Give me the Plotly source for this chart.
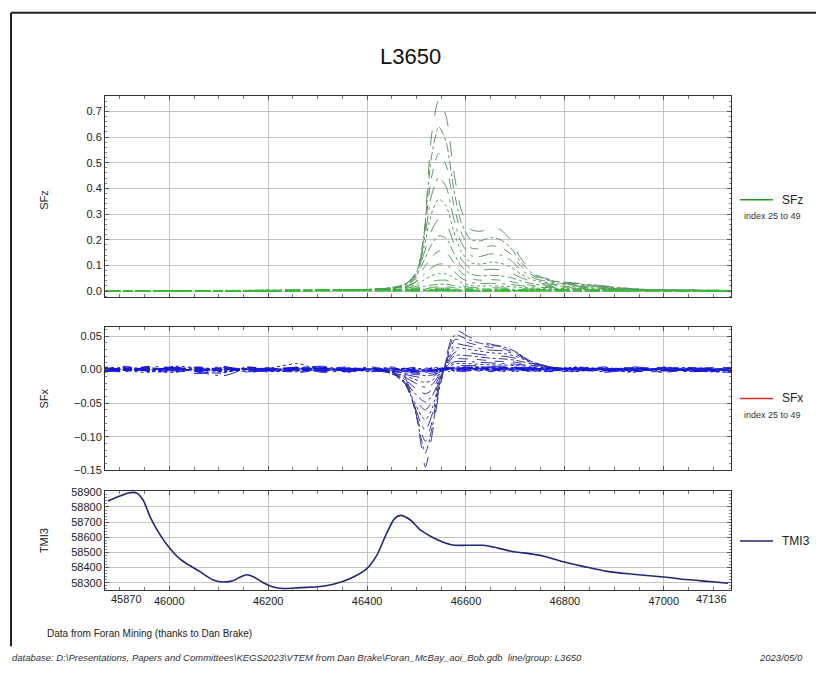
import plotly.graph_objects as go

# ---------------- DATA ----------------
X_RANGE = [45870, 47136]
X_TICKS = [46000, 46200, 46400, 46600, 46800, 47000]
X_EDGE_LABELS = ["45870", "47136"]
CHANNELS = list(range(25, 50))

SFZ_STATIONS = [45870, 46000, 46150, 46300, 46400, 46450, 46480, 46500, 46515, 46530,
                46545, 46560, 46575, 46590, 46610, 46630, 46650, 46670, 46690, 46710,
                46740, 46780, 46850, 46950, 47136]

SFZ = [
    [0, 0, 0, 0.002, 0.004, 0.008, 0.015, 0.04, 0.21, 0.60, 0.745, 0.68, 0.47, 0.32, 0.24, 0.233, 0.246, 0.238, 0.20, 0.13, 0.065, 0.04, 0.026, 0.007, 0.002],
    [0, 0, 0, 0.002, 0.005, 0.010, 0.02, 0.06, 0.22, 0.52, 0.64, 0.58, 0.40, 0.27, 0.20, 0.196, 0.208, 0.200, 0.17, 0.115, 0.06, 0.038, 0.024, 0.007, 0.002],
    [0, 0, 0, 0.002, 0.005, 0.011, 0.025, 0.07, 0.21, 0.44, 0.537, 0.49, 0.34, 0.23, 0.168, 0.165, 0.176, 0.170, 0.145, 0.10, 0.055, 0.036, 0.022, 0.007, 0.002],
    [0, 0, 0, 0.002, 0.006, 0.012, 0.028, 0.075, 0.19, 0.37, 0.443, 0.405, 0.285, 0.19, 0.138, 0.135, 0.145, 0.140, 0.12, 0.085, 0.048, 0.033, 0.020, 0.006, 0.002],
    [0, 0, 0, 0.002, 0.006, 0.013, 0.03, 0.075, 0.17, 0.30, 0.358, 0.33, 0.235, 0.155, 0.11, 0.105, 0.112, 0.108, 0.094, 0.068, 0.04, 0.029, 0.018, 0.006, 0.002],
    [0, 0, 0, 0.002, 0.006, 0.013, 0.03, 0.07, 0.145, 0.235, 0.28, 0.262, 0.19, 0.125, 0.087, 0.081, 0.085, 0.082, 0.072, 0.053, 0.033, 0.025, 0.016, 0.005, 0.002],
    [0, 0, 0, 0.002, 0.006, 0.013, 0.028, 0.062, 0.118, 0.18, 0.215, 0.205, 0.15, 0.098, 0.066, 0.059, 0.061, 0.059, 0.052, 0.04, 0.026, 0.021, 0.013, 0.005, 0.002],
    [0, 0, 0, 0.002, 0.006, 0.012, 0.025, 0.05, 0.09, 0.132, 0.155, 0.15, 0.112, 0.073, 0.048, 0.042, 0.044, 0.042, 0.037, 0.029, 0.02, 0.017, 0.011, 0.004, 0.002],
    [0, 0, 0, 0.002, 0.005, 0.010, 0.02, 0.037, 0.064, 0.09, 0.105, 0.103, 0.078, 0.051, 0.033, 0.029, 0.030, 0.029, 0.026, 0.021, 0.015, 0.013, 0.009, 0.003, 0.001],
    [0, 0, 0, 0.002, 0.004, 0.008, 0.015, 0.026, 0.043, 0.059, 0.068, 0.067, 0.052, 0.034, 0.022, 0.019, 0.020, 0.019, 0.017, 0.014, 0.011, 0.010, 0.007, 0.003, 0.001],
    [0, 0, 0, 0.002, 0.004, 0.006, 0.011, 0.018, 0.028, 0.037, 0.042, 0.042, 0.033, 0.022, 0.014, 0.012, 0.013, 0.012, 0.011, 0.009, 0.008, 0.007, 0.005, 0.002, 0.001],
    [0, 0, 0, 0.001, 0.003, 0.005, 0.008, 0.012, 0.018, 0.023, 0.026, 0.026, 0.021, 0.014, 0.009, 0.008, 0.008, 0.008, 0.007, 0.006, 0.006, 0.005, 0.004, 0.002, 0.001],
    [0, 0, 0.001, 0.001, 0.003, 0.004, 0.006, 0.008, 0.012, 0.014, 0.016, 0.016, 0.013, 0.009, 0.006, 0.005, 0.005, 0.005, 0.005, 0.004, 0.004, 0.004, 0.003, 0.001, 0.001],
    [0.001, 0, 0.002, 0.004, 0.006, 0.005, 0.006, 0.007, 0.009, 0.010, 0.011, 0.011, 0.009, 0.006, 0.004, 0.003, 0.004, 0.004, 0.003, 0.003, 0.003, 0.004, 0.002, 0.003, 0.001],
    [0, 0.001, 0.003, 0.005, 0.006, 0.004, 0.005, 0.006, 0.007, 0.008, 0.008, 0.008, 0.006, 0.004, 0.003, 0.002, 0.003, 0.003, 0.002, 0.002, 0.003, 0.003, 0.004, 0.002, 0.001],
    [0.001, 0, 0.002, 0.006, 0.005, 0.003, 0.004, 0.005, 0.006, 0.006, 0.006, 0.006, 0.005, 0.003, 0.002, 0.002, 0.002, 0.003, 0.002, 0.003, 0.002, 0.004, 0.003, 0.003, 0.002],
    [0, 0.001, 0.001, 0.004, 0.004, 0.003, 0.003, 0.004, 0.005, 0.005, 0.005, 0.005, 0.004, 0.003, 0.002, 0.002, 0.002, 0.002, 0.003, 0.002, 0.003, 0.003, 0.002, 0.002, 0.001],
    [0.001, 0.001, 0.002, 0.003, 0.005, 0.003, 0.003, 0.003, 0.004, 0.004, 0.004, 0.004, 0.003, 0.002, 0.002, 0.001, 0.002, 0.002, 0.002, 0.002, 0.002, 0.003, 0.003, 0.002, 0.002],
    [0, 0, 0.001, 0.002, 0.004, 0.002, 0.002, 0.003, 0.003, 0.003, 0.003, 0.003, 0.003, 0.002, 0.001, 0.002, 0.001, 0.002, 0.001, 0.002, 0.002, 0.002, 0.002, 0.001, 0.001],
    [0.001, 0, 0.002, 0.003, 0.003, 0.002, 0.002, 0.002, 0.003, 0.003, 0.003, 0.002, 0.002, 0.001, 0.002, 0.001, 0.001, 0.001, 0.002, 0.001, 0.002, 0.002, 0.001, 0.002, 0.001],
    [0, 0.001, 0.001, 0.002, 0.003, 0.002, 0.001, 0.002, 0.002, 0.002, 0.002, 0.002, 0.002, 0.001, 0.001, 0.001, 0.001, 0.001, 0.001, 0.001, 0.001, 0.002, 0.001, 0.001, 0.000],
    [0, 0, 0.001, 0.002, 0.002, 0.001, 0.001, 0.001, 0.002, 0.002, 0.002, 0.002, 0.001, 0.001, 0.001, 0.001, 0.001, 0.001, 0.001, 0.001, 0.001, 0.001, 0.001, 0.001, 0.000],
    [0, 0, 0.001, 0.001, 0.002, 0.001, 0.001, 0.001, 0.001, 0.001, 0.001, 0.001, 0.001, 0.001, 0.001, 0.000, 0.001, 0.000, 0.001, 0.000, 0.001, 0.001, 0.000, 0.001, 0.000],
    [0, 0, 0, 0.001, 0.001, 0.001, 0.001, 0.001, 0.001, 0.001, 0.001, 0.001, 0.001, 0.000, 0.001, 0.000, 0.000, 0.001, 0.000, 0.001, 0.000, 0.001, 0.000, 0.000, 0.000],
    [0, 0, 0, 0.001, 0.001, 0.000, 0.001, 0.000, 0.001, 0.001, 0.001, 0.000, 0.001, 0.000, 0.000, 0.000, 0.001, 0.000, 0.000, 0.000, 0.001, 0.000, 0.000, 0.000, 0.000],
]

SFX_STATIONS = [45870, 45910, 45960, 46010, 46060, 46110, 46160, 46210, 46260, 46310,
                46360, 46410, 46450, 46475, 46495, 46510, 46518, 46532, 46544, 46555,
                46566, 46578, 46600, 46625, 46650, 46675, 46700, 46730, 46770, 46820,
                46880, 46940, 47000, 47060, 47136]

SFX = [
    [-0.001, 0.002, 0.001, 0.000, -0.002, 0.001, 0.000, 0.001, 0.002, 0.000, 0.001, 0.001, -0.002, -0.010, -0.050, -0.115, -0.145, -0.095, -0.040, 0.000, 0.036, 0.060, 0.051, 0.043, 0.038, 0.034, 0.026, 0.012, 0.003, 0.001, -0.001, 0.001, 0.000, 0.001, -0.002],
    [0.001, -0.001, 0.002, -0.001, 0.000, 0.002, -0.001, 0.000, 0.001, 0.001, -0.001, 0.000, -0.003, -0.014, -0.055, -0.105, -0.124, -0.085, -0.036, 0.000, 0.030, 0.052, 0.046, 0.040, 0.036, 0.034, 0.027, 0.013, 0.004, 0.000, 0.001, -0.001, 0.001, -0.001, 0.000],
    [0.000, 0.001, -0.001, 0.002, 0.001, -0.001, 0.002, -0.001, 0.000, 0.002, 0.000, -0.001, -0.004, -0.017, -0.055, -0.094, -0.107, -0.076, -0.032, 0.000, 0.026, 0.045, 0.041, 0.036, 0.033, 0.031, 0.025, 0.013, 0.004, 0.001, 0.000, 0.002, -0.001, 0.000, 0.001],
    [0.002, 0.000, 0.001, 0.000, -0.002, 0.000, 0.001, 0.002, -0.001, 0.001, 0.002, 0.000, -0.005, -0.019, -0.052, -0.082, -0.090, -0.066, -0.028, 0.000, 0.022, 0.038, 0.036, 0.032, 0.029, 0.028, 0.023, 0.012, 0.004, 0.001, 0.001, 0.000, 0.001, 0.002, -0.001],
    [-0.001, 0.001, 0.000, 0.001, 0.001, -0.002, 0.000, 0.001, 0.000, -0.001, 0.001, 0.001, -0.006, -0.020, -0.047, -0.069, -0.075, -0.057, -0.025, 0.000, 0.018, 0.032, 0.031, 0.028, 0.025, 0.024, 0.020, 0.011, 0.004, 0.000, 0.002, 0.001, 0.000, -0.001, 0.000],
    [0.001, 0.002, 0.001, -0.002, 0.000, 0.001, -0.002, 0.000, 0.002, 0.000, 0.000, -0.001, -0.006, -0.019, -0.041, -0.056, -0.060, -0.047, -0.021, 0.000, 0.015, 0.026, 0.026, 0.023, 0.021, 0.020, 0.017, 0.010, 0.004, 0.001, 0.000, -0.001, 0.002, 0.000, 0.001],
    [0.000, -0.001, 0.002, 0.001, 0.001, 0.000, 0.001, -0.002, 0.001, 0.002, -0.001, 0.000, -0.006, -0.017, -0.034, -0.045, -0.048, -0.039, -0.018, 0.000, 0.012, 0.021, 0.021, 0.019, 0.017, 0.016, 0.014, 0.009, 0.003, 0.001, 0.001, 0.000, 0.000, 0.001, -0.001],
    [0.001, 0.000, -0.001, 0.000, 0.002, 0.001, -0.001, 0.001, -0.002, 0.000, 0.002, 0.001, -0.006, -0.014, -0.026, -0.034, -0.036, -0.030, -0.014, 0.000, 0.009, 0.016, 0.016, 0.015, 0.013, 0.012, 0.011, 0.007, 0.003, 0.000, -0.001, 0.001, 0.001, 0.000, 0.000],
    [-0.002, 0.001, 0.000, 0.001, -0.001, 0.002, 0.000, 0.000, 0.001, -0.001, 0.000, 0.000, -0.005, -0.011, -0.019, -0.025, -0.026, -0.022, -0.010, 0.000, 0.007, 0.012, 0.012, 0.011, 0.010, 0.009, 0.008, 0.006, 0.002, 0.001, 0.000, 0.000, -0.001, 0.001, 0.000],
    [0.000, 0.002, -0.001, 0.000, 0.000, -0.001, 0.002, 0.001, 0.000, 0.001, -0.002, 0.001, -0.004, -0.009, -0.014, -0.018, -0.019, -0.016, -0.008, 0.000, 0.005, 0.009, 0.009, 0.008, 0.007, 0.007, 0.006, 0.005, 0.002, 0.000, 0.001, -0.001, 0.000, 0.000, 0.001],
    [0.001, 0.000, 0.001, -0.001, 0.001, 0.000, 0.000, 0.002, -0.001, 0.000, 0.001, -0.001, -0.004, -0.007, -0.010, -0.012, -0.013, -0.011, -0.005, 0.000, 0.004, 0.006, 0.006, 0.006, 0.005, 0.005, 0.004, 0.003, 0.001, 0.001, 0.000, 0.001, 0.000, -0.001, 0.000],
    [0.000, -0.001, 0.000, 0.002, -0.001, 0.001, 0.001, 0.000, 0.001, 0.001, 0.000, 0.000, -0.003, -0.005, -0.007, -0.008, -0.009, -0.008, -0.004, 0.000, 0.003, 0.004, 0.004, 0.004, 0.004, 0.003, 0.003, 0.002, 0.001, 0.000, 0.001, 0.000, 0.001, 0.000, -0.001],
    [0.001, 0.000, -0.001, 0.001, 0.000, 0.000, -0.001, 0.001, 0.002, 0.000, 0.001, 0.000, -0.002, -0.004, -0.005, -0.006, -0.006, -0.005, -0.003, 0.000, 0.002, 0.003, 0.003, 0.003, 0.003, 0.002, 0.002, 0.001, 0.000, 0.001, 0.000, -0.001, 0.000, 0.001, 0.000],
    [0.000, 0.002, 0.001, 0.000, -0.002, 0.001, 0.000, -0.001, 0.000, 0.002, 0.000, 0.001, -0.001, -0.003, -0.004, -0.004, -0.004, -0.003, -0.002, 0.000, 0.001, 0.002, 0.002, 0.002, 0.002, 0.002, 0.001, 0.001, 0.001, 0.000, -0.001, 0.000, 0.001, 0.000, 0.001],
    [-0.001, 0.001, 0.003, -0.002, 0.001, -0.003, 0.002, 0.001, -0.002, 0.000, 0.002, -0.001, 0.000, -0.002, -0.003, -0.003, -0.003, -0.002, -0.001, 0.000, 0.001, 0.002, 0.001, 0.002, 0.001, 0.001, 0.002, 0.000, 0.001, -0.002, 0.001, 0.002, -0.001, 0.000, 0.001],
    [0.002, -0.002, 0.000, 0.003, -0.002, 0.002, -0.001, 0.003, 0.000, -0.002, 0.001, 0.002, -0.001, -0.002, -0.002, -0.003, -0.002, -0.002, 0.000, 0.001, 0.001, 0.001, 0.002, 0.000, 0.002, 0.000, 0.001, 0.002, -0.001, 0.001, 0.002, -0.001, 0.001, -0.002, 0.000],
    [0.000, 0.003, -0.002, 0.001, 0.003, -0.002, 0.001, -0.002, 0.003, 0.001, -0.002, 0.000, 0.002, -0.001, -0.002, -0.001, -0.002, -0.001, 0.001, 0.000, 0.002, 0.000, 0.001, 0.002, -0.001, 0.002, 0.000, 0.001, 0.002, -0.002, 0.000, 0.003, -0.002, 0.001, -0.001],
    [-0.002, 0.001, 0.004, -0.003, -0.001, 0.003, -0.003, 0.002, 0.001, -0.003, 0.002, -0.002, 0.001, 0.000, -0.002, 0.001, -0.002, 0.000, 0.002, -0.001, 0.001, 0.003, -0.001, 0.002, 0.001, -0.002, 0.003, 0.000, -0.002, 0.002, -0.001, 0.001, 0.003, -0.002, -0.003],
    [0.003, -0.002, 0.001, 0.002, -0.004, -0.009, 0.002, -0.001, 0.004, 0.002, -0.003, 0.002, -0.002, 0.002, 0.000, -0.002, 0.001, -0.002, 0.000, 0.002, -0.001, 0.002, 0.003, 0.000, -0.002, 0.003, 0.001, -0.002, 0.002, 0.000, -0.003, 0.002, -0.004, 0.002, 0.001],
    [-0.003, 0.004, -0.002, -0.004, 0.002, 0.001, -0.003, 0.003, 0.009, -0.002, 0.003, -0.003, 0.002, -0.001, 0.002, 0.000, -0.002, 0.002, -0.002, 0.001, 0.002, -0.002, 0.002, 0.004, -0.001, 0.001, -0.003, 0.003, 0.000, -0.003, 0.003, -0.002, 0.001, -0.003, 0.002],
    [0.002, -0.003, 0.005, 0.001, -0.006, 0.003, 0.000, -0.004, 0.002, 0.005, -0.002, 0.001, -0.003, 0.002, -0.002, 0.003, 0.001, -0.003, 0.002, 0.000, -0.002, 0.003, 0.000, -0.003, 0.004, -0.001, 0.002, -0.002, 0.003, 0.001, -0.004, 0.001, 0.003, -0.001, -0.004],
    [-0.004, 0.002, -0.001, 0.004, -0.003, -0.005, 0.004, -0.002, -0.003, 0.003, 0.001, -0.003, 0.004, -0.002, 0.001, -0.003, 0.002, 0.001, -0.003, 0.002, 0.003, -0.001, -0.003, 0.002, 0.000, 0.004, -0.002, 0.001, -0.003, 0.004, 0.000, -0.003, 0.002, 0.003, -0.002],
    [0.001, 0.005, -0.003, -0.002, 0.004, -0.003, 0.003, 0.002, -0.004, 0.000, 0.004, -0.002, -0.001, 0.003, -0.003, 0.002, -0.001, 0.003, -0.002, -0.001, 0.002, -0.002, 0.004, -0.002, 0.003, -0.003, 0.001, 0.003, -0.002, -0.002, 0.004, -0.002, -0.003, 0.002, 0.003],
    [-0.002, -0.003, 0.004, 0.003, -0.002, 0.005, -0.004, 0.001, 0.003, -0.004, -0.001, 0.004, -0.003, 0.001, 0.003, -0.002, 0.003, -0.002, 0.001, 0.003, -0.003, 0.001, -0.002, 0.003, -0.003, 0.002, 0.003, -0.003, 0.001, 0.003, -0.002, 0.004, -0.001, -0.003, 0.002],
    [0.004, -0.001, -0.004, 0.005, 0.002, -0.004, 0.003, -0.003, 0.001, 0.004, -0.004, 0.002, 0.002, -0.003, 0.002, 0.001, -0.003, 0.002, 0.003, -0.002, 0.001, -0.003, 0.003, -0.001, 0.002, -0.003, 0.004, -0.001, -0.003, 0.003, 0.001, -0.004, 0.004, -0.002, -0.004],
]

TMI_STATIONS = [45876, 45900, 45917, 45934, 45947, 45961, 45975, 45995, 46022, 46062,
                46089, 46110, 46130, 46145, 46156, 46170, 46190, 46210, 46230, 46264,
                46305, 46332, 46365, 46399, 46419, 46440, 46456, 46468, 46487, 46507,
                46534, 46554, 46574, 46601, 46635, 46655, 46689, 46736, 46756, 46797,
                46837, 46885, 46938, 47006, 47046, 47093, 47130]
TMI3 = [58840, 58872, 58893, 58893, 58846, 58737, 58651, 58553, 58456, 58373,
        58318, 58305, 58315, 58340, 58353, 58340, 58300, 58272, 58262, 58268,
        58275, 58290, 58326, 58391, 58477, 58629, 58725, 58745, 58716, 58651,
        58597, 58568, 58549, 58547, 58547, 58536, 58510, 58488, 58477, 58438,
        58408, 58375, 58356, 58336, 58321, 58308, 58297]

for arr in SFZ:
    assert len(arr) == len(SFZ_STATIONS), len(arr)
for arr in SFX:
    assert len(arr) == len(SFX_STATIONS), len(arr)
assert len(TMI3) == len(TMI_STATIONS)

# ---------------- STYLE ----------------
W, H = 816, 675
FONT = "Liberation Sans, Arial, sans-serif"


def px(x):
    return x / W


def py(y):
    return 1 - y / H


def mix(c1, c2, t):
    a = [int(c1[i:i + 2], 16) for i in (1, 3, 5)]
    b = [int(c2[i:i + 2], 16) for i in (1, 3, 5)]
    return "rgb(%d,%d,%d)" % tuple(round(a[k] + (b[k] - a[k]) * t) for k in range(3))


DASHES = ["longdash", "dashdot", "dash", "longdashdot", "dot"]

fig = go.Figure()

n = len(SFZ)
for i, vals in enumerate(SFZ):
    t = i / (n - 1)
    fig.add_trace(go.Scatter(
        x=SFZ_STATIONS, y=vals, mode="lines", name="SFz[%d]" % CHANNELS[i],
        line=dict(color=mix("#62906a", "#2ec22e", t), width=1,
                  dash=DASHES[i % len(DASHES)], shape="spline", smoothing=0.7),
        xaxis="x", yaxis="y", showlegend=False, hoverinfo="skip"))

n = len(SFX)
for i, vals in enumerate(SFX):
    t = i / (n - 1)
    fig.add_trace(go.Scatter(
        x=SFX_STATIONS, y=vals, mode="lines", name="SFx[%d]" % CHANNELS[i],
        line=dict(color=mix("#3a3a9a", "#1010e8", t), width=1,
                  dash=DASHES[i % len(DASHES)], shape="spline", smoothing=0.7),
        xaxis="x2", yaxis="y2", showlegend=False, hoverinfo="skip"))

fig.add_trace(go.Scatter(
    x=TMI_STATIONS, y=TMI3, mode="lines", name="TMI3",
    line=dict(color="#1f2878", width=1.6, shape="spline", smoothing=0.8),
    xaxis="x3", yaxis="y3", showlegend=False, hoverinfo="skip"))

XDOM = [px(105), px(731)]
common_x = dict(range=X_RANGE, domain=XDOM, tickmode="array", tickvals=X_TICKS,
                tickformat="d",
                showgrid=True, gridcolor="#c4c4c4", gridwidth=1,
                showline=True, linecolor="#333333", linewidth=1, mirror="allticks",
                ticks="inside", ticklen=4, tickcolor="#555555",
                minor=dict(dtick=50, tick0=45850, ticks="inside", ticklen=3,
                           tickcolor="#777777", showgrid=False),
                zeroline=False, tickfont=dict(family=FONT, size=11, color="#222222"))
common_y = dict(showgrid=True, gridcolor="#c4c4c4", gridwidth=1,
                showline=True, linecolor="#333333", linewidth=1, mirror="allticks",
                ticks="inside", ticklen=4, tickcolor="#555555",
                zeroline=False, tickfont=dict(family=FONT, size=11, color="#222222"))

fig.update_layout(
    width=W, height=H,
    margin=dict(l=0, r=0, t=0, b=0),
    paper_bgcolor="white", plot_bgcolor="white",
    showlegend=False,
    xaxis=dict(common_x, anchor="y", showticklabels=False),
    xaxis2=dict(common_x, anchor="y2", showticklabels=False, matches="x"),
    xaxis3=dict(common_x, anchor="y3", showticklabels=True, matches="x"),
    yaxis=dict(common_y, anchor="x", domain=[py(297), py(92)], range=[-0.024, 0.762],
               tickvals=[0, 0.1, 0.2, 0.3, 0.4, 0.5, 0.6, 0.7], tickformat=".1f",
               minor=dict(dtick=0.02, ticks="inside", ticklen=2, tickcolor="#888888")),
    yaxis2=dict(common_y, anchor="x2", domain=[py(473), py(327)], range=[-0.15, 0.064],
                tickvals=[-0.15, -0.10, -0.05, 0.0, 0.05], tickformat=".2f",
                minor=dict(dtick=0.01, ticks="inside", ticklen=2, tickcolor="#888888")),
    yaxis3=dict(common_y, anchor="x3", domain=[py(595), py(494)], range=[58250, 58906],
                tickvals=[58300, 58400, 58500, 58600, 58700, 58800, 58900], tickformat="d",
                minor=dict(dtick=20, ticks="inside", ticklen=2, tickcolor="#888888")),
)

ann = []
shapes = []


def text(t, x, y, size, xanchor="center", angle=0, color="#222222"):
    ann.append(dict(text=t, x=px(x), y=py(y), xref="paper", yref="paper",
                    xanchor=xanchor, yanchor="middle", textangle=angle,
                    showarrow=False, font=dict(family=FONT, size=size, color=color)))


# Title
text("L3650", 410, 52, 22, color="#111111")

# Edge tick labels of the bottom axis
text(X_EDGE_LABELS[0], 109, 604, 11, xanchor="left")
text(X_EDGE_LABELS[1], 729, 604, 11, xanchor="right")

# Axis titles
for txt, yy in (("SFz", 198), ("SFx", 400), ("TMI3", 545)):
    text(txt, 44, yy, 11, angle=-90)

# Custom legends
for name, color, yy, sub in (("SFz", "#22a022", 198, True),
                             ("SFx", "#e02828", 400, True),
                             ("TMI3", "#1f2878", 545, False)):
    shapes.append(dict(type="line", xref="paper", yref="paper",
                       x0=px(740), x1=px(773), y0=py(yy), y1=py(yy),
                       line=dict(color=color, width=1.5)))
    text(name, 780, yy, 12, xanchor="left")
    if sub:
        text("index 25 to 49", 772, yy + 17, 9, color="#333333")

# Footer texts
text("Data from Foran Mining (thanks to Dan Brake)", 45, 639, 10, xanchor="left")
text("<i>database: D:\\Presentations, Papers and Committees\\KEGS2023\\VTEM from Dan Brake\\Foran_McBay_aoi_Bob.gdb  line/group: L3650</i>",
     10, 663, 9.5, xanchor="left", color="#333333")
text("<i>2023/05/0</i>", 757, 663, 9.5, xanchor="left", color="#333333")

# Page frame (left and top edges)
shapes.append(dict(type="line", xref="paper", yref="paper", x0=px(11), x1=px(11),
                   y0=py(8), y1=py(652), line=dict(color="#222222", width=2)))
shapes.append(dict(type="line", xref="paper", yref="paper", x0=px(11), x1=1,
                   y0=py(8), y1=py(8), line=dict(color="#222222", width=2)))

fig.update_layout(annotations=ann, shapes=shapes)

# remove the default page margin so the figure sits at the window origin
fig.write_html("out.html",
               config={"displayModeBar": False},
               post_script="document.body.style.margin='0';document.body.style.overflow='hidden';")
